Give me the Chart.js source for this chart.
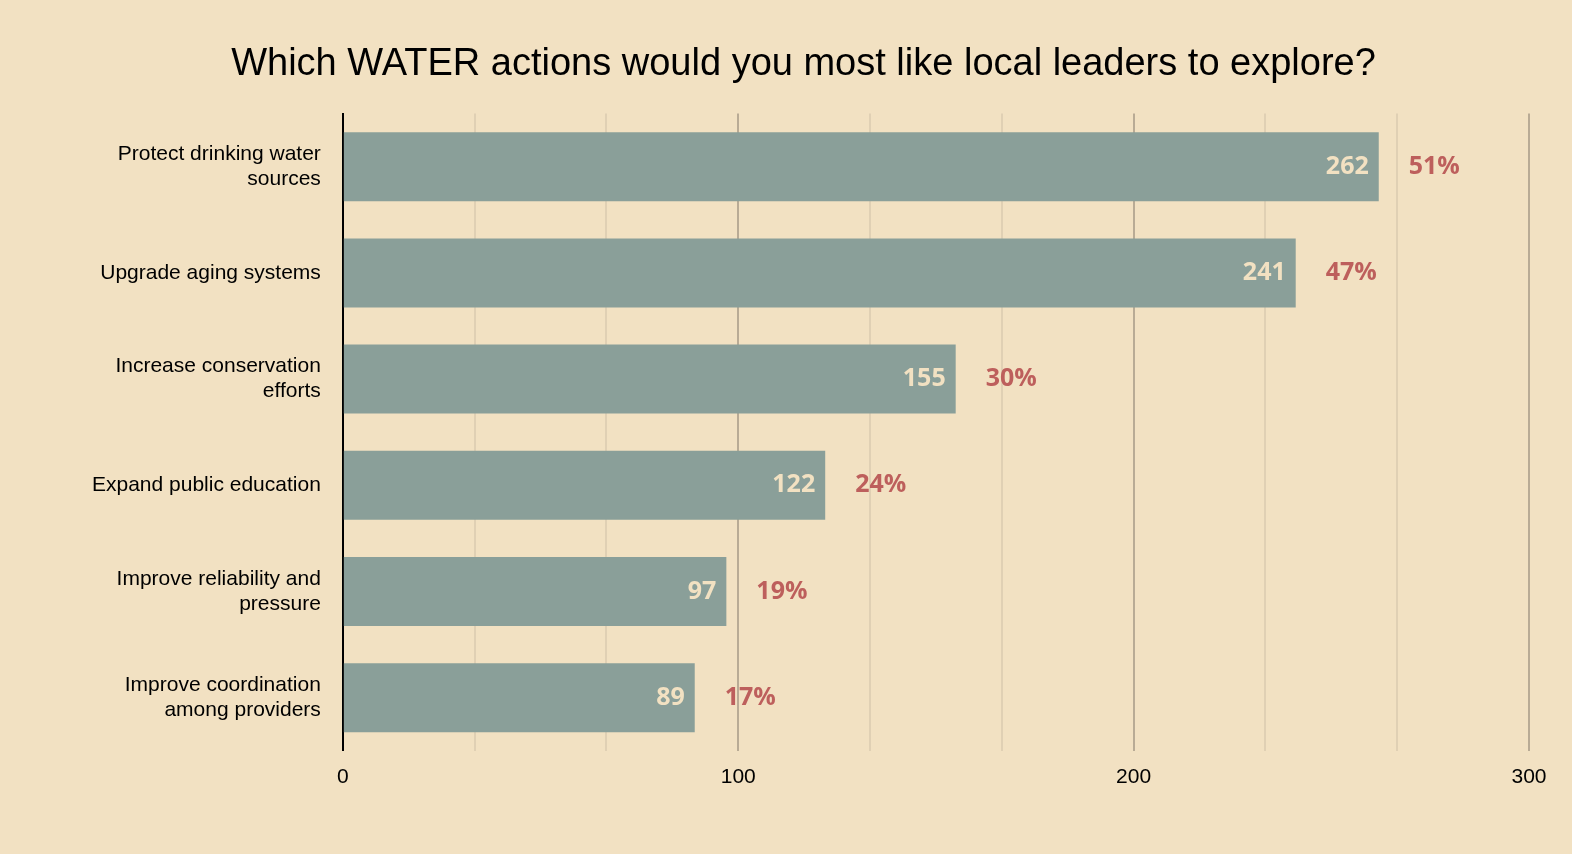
<!DOCTYPE html>
<html>
<head>
<meta charset="utf-8">
<script src="https://cdn.jsdelivr.net/npm/chart.js@4"></script>
<style>
  html, body { margin: 0; padding: 0; background: #f2e1c2; }
  #wrap { width: 1572px; height: 854px; }
</style>
</head>
<body>
<div id="wrap"><canvas id="c" width="1572" height="854"></canvas></div>
<script>
var categories = [
  ['Protect drinking water', 'sources'],
  'Upgrade aging systems',
  ['Increase conservation', 'efforts'],
  'Expand public education',
  ['Improve reliability and', 'pressure'],
  ['Improve coordination', 'among providers']
];
var counts = [262, 241, 155, 122, 97, 89];
var percents = ['51%', '47%', '30%', '24%', '19%', '17%'];
var tickLabels = [0, 100, 200, 300];

var barLabels = {
  id: 'barLabels',
  afterDatasetsDraw: function(chart) {
    var ctx = chart.ctx;
    var meta = chart.getDatasetMeta(0);
    ctx.save();
    ctx.font = 'bold 25px "Open Sans", sans-serif';
    ctx.textBaseline = 'middle';
    meta.data.forEach(function(bar, i) {
      ctx.fillStyle = '#f2e1c2';
      ctx.textAlign = 'right';
      ctx.fillText(counts[i], bar.x - 10, bar.y);
      ctx.fillStyle = '#bd5f5c';
      ctx.textAlign = 'left';
      ctx.fillText(percents[i], bar.x + 30, bar.y);
    });
    ctx.restore();
  }
};

new Chart(document.getElementById('c'), {
  type: 'bar',
  data: {
    labels: categories,
    datasets: [{
      data: counts,
      backgroundColor: '#8a9f99',
      barPercentage: 0.65,
      categoryPercentage: 1
    }]
  },
  options: {
    indexAxis: 'y',
    responsive: false,
    animation: false,
    layout: { padding: { left: 78, right: 43, top: 10, bottom: 50 } },
    plugins: {
      legend: { display: false },
      tooltip: { enabled: false },
      title: {
        display: true,
        text: 'Which WATER actions would you most like local leaders to explore?',
        color: '#000',
        font: { family: '"Liberation Sans", Arial, sans-serif', size: 38, weight: 'normal' },
        padding: { top: 32, bottom: 26 }
      }
    },
    scales: {
      x: {
        min: 0, max: 300,
        ticks: {
          stepSize: 100 / 3,
          color: '#000',
          font: { family: '"Liberation Sans", Arial, sans-serif', size: 21 },
          padding: 14,
          callback: function(v) {
            var r = Math.round(v);
            return tickLabels.indexOf(r) >= 0 && Math.abs(v - r) < 0.01 ? r : '';
          }
        },
        grid: {
          color: function(c) {
            var v = Math.round(c.tick.value);
            if (v === 0) return '#000';
            return v % 100 === 0 ? '#b9ab95' : '#e0d0b4';
          },
          lineWidth: 2,
          drawTicks: false
        },
        border: { display: false }
      },
      y: {
        ticks: {
          color: '#000',
          font: { family: '"Liberation Sans", Arial, sans-serif', size: 21 },
          padding: 14
        },
        grid: { display: false },
        border: { color: '#000', width: 2 }
      }
    }
  },
  plugins: [barLabels]
});
</script>
</body>
</html>
